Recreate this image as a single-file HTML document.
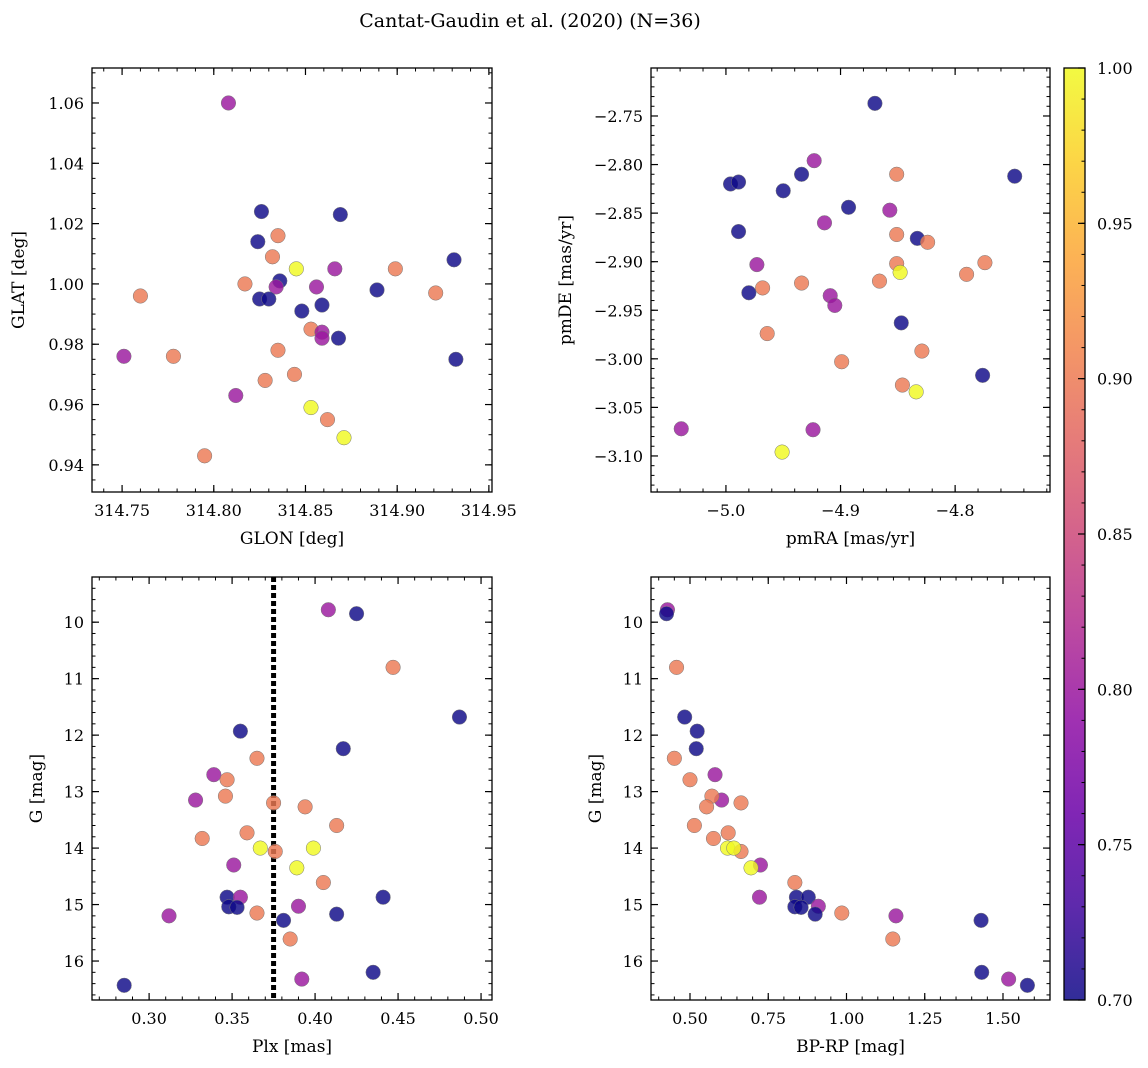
<!DOCTYPE html>
<html><head><meta charset="utf-8">
<style>
html,body{margin:0;padding:0;background:#fff;}
svg{display:block;font-family:"DejaVu Serif","Liberation Serif",serif;}
</style></head>
<body>
<svg id="chart" width="1148" height="1068" viewBox="0 0 1148 1068" xmlns="http://www.w3.org/2000/svg">
<text x="530" y="27" text-anchor="middle" font-size="19">Cantat-Gaudin et al. (2020) (N=36)</text>
</svg>
<script>
// ---- data ----
const glon = [314.808,314.826,314.824,314.869,314.835,314.832,314.817,314.845,314.836,314.834,314.825,314.830,314.760,314.856,314.866,314.899,314.921,314.931,314.889,314.848,314.859,314.853,314.859,314.859,314.868,314.751,314.778,314.835,314.932,314.844,314.828,314.812,314.853,314.862,314.871,314.795];
const glat = [1.060,1.024,1.014,1.023,1.016,1.009,1.000,1.005,1.001,0.999,0.995,0.995,0.996,0.999,1.005,1.005,0.997,1.008,0.998,0.991,0.993,0.985,0.984,0.982,0.982,0.976,0.976,0.978,0.975,0.970,0.968,0.963,0.959,0.955,0.949,0.943];
const glatProb = [0.80,0.70,0.70,0.70,0.90,0.90,0.90,1.0,0.70,0.80,0.70,0.70,0.90,0.80,0.80,0.90,0.90,0.70,0.70,0.70,0.70,0.90,0.80,0.80,0.70,0.80,0.90,0.90,0.70,0.90,0.90,0.80,1.0,0.90,1.0,0.90];

const pmra = [-4.870,-4.923,-4.851,-4.934,-4.996,-4.989,-4.950,-4.748,-4.893,-4.857,-4.914,-4.989,-4.851,-4.833,-4.824,-4.973,-4.851,-4.774,-4.848,-4.790,-4.866,-4.934,-4.968,-4.980,-4.909,-4.905,-4.847,-4.964,-4.829,-4.899,-4.776,-4.846,-4.834,-5.039,-4.924,-4.951];
const pmde = [-2.737,-2.796,-2.810,-2.810,-2.820,-2.818,-2.827,-2.812,-2.844,-2.847,-2.860,-2.869,-2.872,-2.876,-2.880,-2.903,-2.902,-2.901,-2.911,-2.913,-2.920,-2.922,-2.927,-2.932,-2.935,-2.945,-2.963,-2.974,-2.992,-3.003,-3.017,-3.027,-3.034,-3.072,-3.073,-3.096];
const pmProb = [0.70,0.80,0.90,0.70,0.70,0.70,0.70,0.70,0.70,0.80,0.80,0.70,0.90,0.70,0.90,0.80,0.90,0.90,1.0,0.90,0.90,0.90,0.90,0.70,0.80,0.80,0.70,0.90,0.90,0.90,0.70,0.90,1.0,0.80,0.80,1.0];

const plx = [0.408,0.425,0.447,0.487,0.355,0.417,0.365,0.339,0.347,0.328,0.346,0.375,0.394,0.413,0.332,0.359,0.367,0.376,0.399,0.351,0.389,0.405,0.347,0.355,0.441,0.348,0.353,0.390,0.365,0.413,0.312,0.381,0.385,0.435,0.392,0.285];
const gmag = [9.78,9.85,10.80,11.68,11.93,12.24,12.41,12.70,12.79,13.15,13.08,13.20,13.27,13.60,13.83,13.73,14.00,14.06,14.00,14.30,14.35,14.61,14.87,14.87,14.87,15.04,15.05,15.03,15.15,15.17,15.20,15.28,15.61,16.20,16.32,16.43];
const bprp = [0.428,0.425,0.457,0.483,0.523,0.520,0.450,0.580,0.500,0.601,0.570,0.663,0.553,0.514,0.575,0.622,0.620,0.663,0.640,0.725,0.695,0.835,0.840,0.722,0.878,0.835,0.855,0.910,0.985,0.900,1.158,1.430,1.148,1.432,1.518,1.578];
const cmdProb = [0.80,0.70,0.90,0.70,0.70,0.70,0.90,0.80,0.90,0.80,0.90,0.90,0.90,0.90,0.90,0.90,1.0,0.90,1.0,0.80,1.0,0.90,0.70,0.80,0.70,0.70,0.70,0.80,0.90,0.70,0.80,0.70,0.90,0.70,0.80,0.70];
const plxMean = [0.375];

const p1xTicks = [314.75,314.80,314.85,314.90,314.95];
const p1yTicks = [0.94,0.96,0.98,1.00,1.02,1.04,1.06];
const p2xTicks = [-5.0,-4.9,-4.8];
const p2yTicks = [-3.10,-3.05,-3.00,-2.95,-2.90,-2.85,-2.80,-2.75];
const p3xTicks = [0.30,0.35,0.40,0.45,0.50];
const gTicks = [10,11,12,13,14,15,16];
const p4xTicks = [0.50,0.75,1.00,1.25,1.50];
const cbTicks = [0.70,0.75,0.80,0.85,0.90,0.95,1.00];

// ---- helpers ----
const NS="http://www.w3.org/2000/svg";
const svg=document.getElementById('chart');
function mk(tag,attrs,parent){const e=document.createElementNS(NS,tag);for(const k in attrs)e.setAttribute(k,attrs[k]);(parent||svg).appendChild(e);return e;}
const stops=["#0d0887","#41049d","#6a00a8","#8f0da4","#b12a90","#cc4778","#e16462","#f2844b","#fca636","#fcce25","#f0f921"];
function hex(h){return [1,3,5].map(i=>parseInt(h.substr(i,2),16));}
function plasma(t){t=Math.max(0,Math.min(1,t));const f=t*10,i=Math.min(9,Math.floor(f)),r=f-i;const a=hex(stops[i]),b=hex(stops[i+1]);return 'rgb('+a.map((v,k)=>Math.round(v+(b[k]-v)*r)).join(',')+')';}
function cmap(v){return plasma((v-0.70)/0.30);}
function lin(d0,d1,r0,r1){return v=>r0+(v-d0)/(d1-d0)*(r1-r0);}
function fmt(v,dec){return (v<0?'\u2212':'')+Math.abs(v).toFixed(dec);}

function panel(o){
  const g=mk('g',{});
  
  
  const X=lin(o.xd[0],o.xd[1],o.x0,o.x1), Y=lin(o.yd[0],o.yd[1],o.y1,o.y0);
  const minorX=[],minorY=[];
  for(let v=Math.ceil(o.xd[0]/o.xmin-1e-9)*o.xmin; v<=o.xd[1]+1e-9; v+=o.xmin) minorX.push(v);
  for(let v=Math.ceil(Math.min(...o.yd)/o.ymin-1e-9)*o.ymin; v<=Math.max(...o.yd)+1e-9; v+=o.ymin) minorY.push(v);
  minorX.forEach(v=>{const x=X(v);mk('line',{x1:x,x2:x,y1:o.y1,y2:o.y1-3.5,stroke:'#000','stroke-width':1},g);mk('line',{x1:x,x2:x,y1:o.y0,y2:o.y0+3.5,stroke:'#000','stroke-width':1},g);});
  minorY.forEach(v=>{const y=Y(v);mk('line',{x1:o.x0,x2:o.x0+3.5,y1:y,y2:y,stroke:'#000','stroke-width':1},g);mk('line',{x1:o.x1,x2:o.x1-3.5,y1:y,y2:y,stroke:'#000','stroke-width':1},g);});
  o.xt.forEach(v=>{const x=X(v);mk('line',{x1:x,x2:x,y1:o.y1,y2:o.y1-7,stroke:'#000','stroke-width':1.2},g);mk('line',{x1:x,x2:x,y1:o.y0,y2:o.y0+7,stroke:'#000','stroke-width':1.2},g);
    const t=mk('text',{x:x,y:o.y1+24,'text-anchor':'middle','font-size':16},g);t.textContent=fmt(v,o.xdec);
    
    });
  o.yt.forEach(v=>{const y=Y(v);mk('line',{x1:o.x0,x2:o.x0+7,y1:y,y2:y,stroke:'#000','stroke-width':1.2},g);mk('line',{x1:o.x1,x2:o.x1-7,y1:y,y2:y,stroke:'#000','stroke-width':1.2},g);
    const t=mk('text',{x:o.x0-8,y:y+6,'text-anchor':'end','font-size':16},g);t.textContent=fmt(v,o.ydec);
    
    });
  if(o.vline!==undefined){const x=X(o.vline);const l=mk('line',{x1:x,x2:x,y1:o.y0,y2:o.y1,stroke:'#000','stroke-width':5,'stroke-dasharray':'5,3'},g);
    
    }
  o.xs.forEach((xv,i)=>{const c=mk('circle',{cx:X(xv),cy:Y(o.ys[i]),r:7.3,fill:cmap(o.cs[i]),'fill-opacity':0.82,stroke:'#777','stroke-width':0.5},g);
    
    });
  const fr=mk('rect',{x:o.x0,y:o.y0,width:o.x1-o.x0,height:o.y1-o.y0,fill:'none',stroke:'#000','stroke-width':1.3},g);
  
  
  const xl=mk('text',{x:(o.x0+o.x1)/2,y:o.y1+52,'text-anchor':'middle','font-size':17},g);xl.textContent=o.xlab;
  
  
  const cx=o.x0-(o.ylabOff||62),cy=(o.y0+o.y1)/2;
  const yl=mk('text',{x:cx,y:cy,'text-anchor':'middle','font-size':17,transform:`rotate(-90 ${cx} ${cy})`},g);yl.textContent=o.ylab;
  
  
}

panel({name:'glon-glat-panel',x0:92,x1:492,y0:68,y1:492,xd:[314.7336,314.9517],yd:[0.9310,1.0716],xt:p1xTicks,yt:p1yTicks,xmin:0.01,ymin:0.005,xdec:2,ydec:2,xs:glon,ys:glat,cs:glatProb,xlab:'GLON [deg]',ylab:'GLAT [deg]',ylabOff:68});
panel({name:'proper-motion-panel',x0:651,x1:1050,y0:68,y1:492,xd:[-5.0654,-4.7172],yd:[-3.1371,-2.7006],xt:p2xTicks,yt:p2yTicks,xmin:0.02,ymin:0.01,xdec:1,ydec:2,xs:pmra,ys:pmde,cs:pmProb,xlab:'pmRA [mas/yr]',ylab:'pmDE [mas/yr]',ylabOff:80});
panel({name:'parallax-magnitude-panel',x0:92,x1:492,y0:577,y1:1000,xd:[0.2656,0.5066],yd:[16.69,9.20],xt:p3xTicks,yt:gTicks,xmin:0.01,ymin:0.2,xdec:2,ydec:0,xs:plx,ys:gmag,cs:cmdProb,xlab:'Plx [mas]',ylab:'G [mag]',ylabOff:50,vline:plxMean[0]});
panel({name:'color-magnitude-panel',x0:651,x1:1050,y0:577,y1:1000,xd:[0.3754,1.6502],yd:[16.69,9.20],xt:p4xTicks,yt:gTicks,xmin:0.05,ymin:0.2,xdec:2,ydec:0,xs:bprp,ys:gmag,cs:cmdProb,xlab:'BP-RP [mag]',ylab:'G [mag]',ylabOff:50});

// colorbar
(function(){
  const g=mk('g',{});
  
  
  const x0=1064,x1=1085,y0=68,y1=1000;
  const defs=mk('defs',{},g);
  const lg=mk('linearGradient',{id:'cbg',x1:0,y1:1,x2:0,y2:0},defs);
  stops.forEach((s,i)=>mk('stop',{offset:(i/10),'stop-color':s,'stop-opacity':0.85},lg));
  mk('rect',{x:x0,y:y0,width:x1-x0,height:y1-y0,fill:'url(#cbg)',stroke:'#000','stroke-width':1.3},g);
  const Y=lin(0.70,1.00,y1,y0);
  for(let v=0.70;v<=1.0001;v+=0.01){const y=Y(v);mk('line',{x1:x1,x2:x1-3.5,y1:y,y2:y,stroke:'#000','stroke-width':1},g);}
  cbTicks.forEach(v=>{const y=Y(v);mk('line',{x1:x1,x2:x1-7,y1:y,y2:y,stroke:'#000','stroke-width':1.2},g);
    const t=mk('text',{x:x1+12,y:y+6,'font-size':16},g);t.textContent=v.toFixed(2);
    
    });
})();
</script>
</body></html>
